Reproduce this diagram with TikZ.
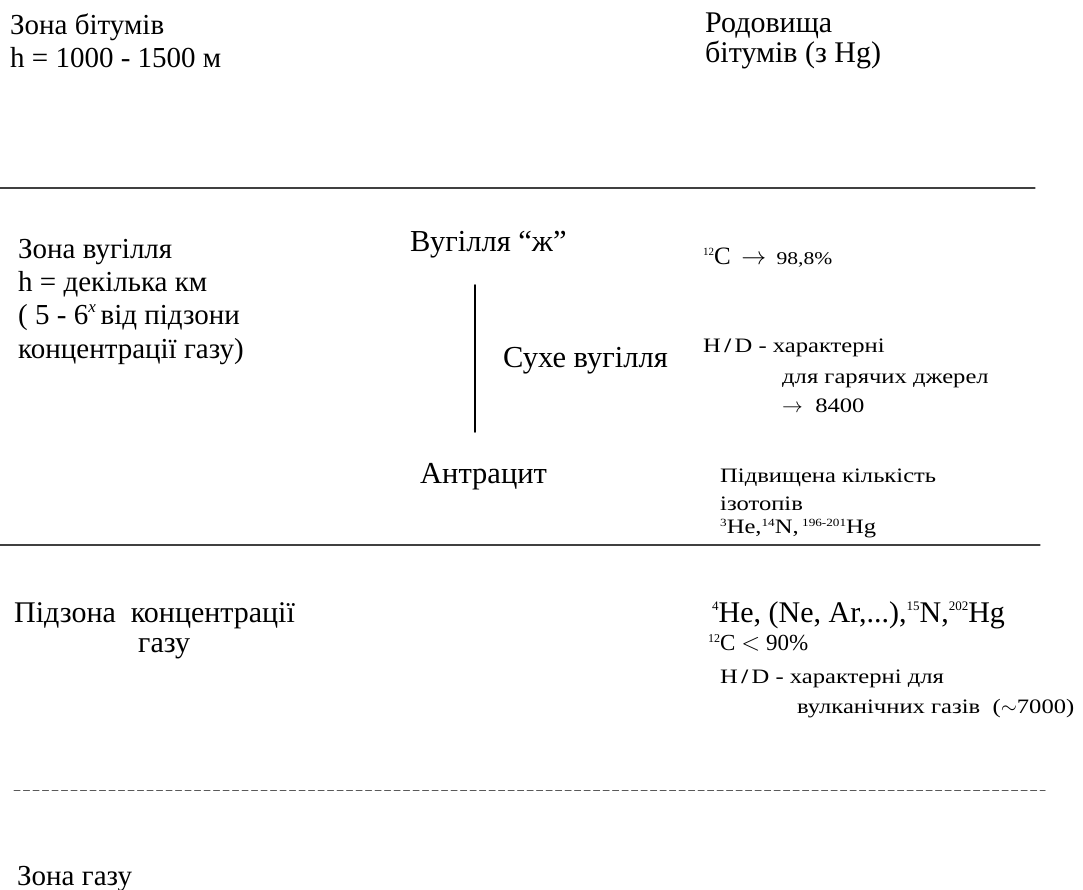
\documentclass[tikz,border=0pt]{standalone}
\usepackage{fontspec}
\setmainfont{Liberation Serif}
\newfontfamily\notefont{Liberation Serif}[FakeStretch=1.2]
\usetikzlibrary{positioning}

\newcommand{\isot}[2][11]{\raisebox{\dimexpr.66em-#1pt*66/100\relax}{\fontsize{#1}{#1}\selectfont #2}}

\tikzset{
  zone/.style={anchor=base west,inner sep=0pt,align=left,font=\rmfamily\fontsize{29}{33.3}\selectfont},
  coal/.style={anchor=base west,inner sep=0pt,font=\rmfamily\fontsize{30.5}{30}\selectfont},
  note/.style={anchor=base west,inner sep=0pt,align=left,font=\notefont\fontsize{20.5}{28}\selectfont},
  divider/.style={line width=1.1pt,color=black!75},
}

\begin{document}
\begin{tikzpicture}[line cap=round,line join=round,x=1pt,y=-1pt]
\useasboundingbox (0,0) rectangle (1083,890);
% bitumen zone
\node[zone] (bitum) at (10,68) {Зона бітумів\\h = 1000 - 1500 м};
\node[zone,font=\rmfamily\fontsize{30}{30}\selectfont] (rodov) at (705,63) {Родовища\\бітумів (з Hg)};
\draw[divider] (0,188) -- (1035,188);
% coal zone
\node[zone] (vugil) at (18,358) {Зона вугілля\\h = декілька км\\( 5 - 6\raisebox{.42em}{\fontsize{17}{17}\selectfont\itshape x}\,від підзони\\концентрації газу)};
\node[coal] (zhyrne) at (410,252) {Вугілля “ж”};
\node[coal] (sukhe) at (503,367) {Сухе вугілля};
\node[coal] (antr) at (420,483) {Антрацит};
\coordinate (vtop) at (475,285);
\coordinate (vbot) at (475,432);
\draw[line width=1.6pt] (vtop) -- (vbot);
\node[note,font=\rmfamily\fontsize{25}{25}\selectfont] (carb) at (703,265) {\isot[11]{12}C \,$\rightarrow$\ \,{\notefont\fontsize{18}{18}\selectfont 98,8\%}};
\node[note] (hdhot) at (703,352) {H\,{\bfseries/}\,D - характерні};
\node[note] (hdhotb) at (782,383) {для гарячих джерел};
\node[note] (hdhotc) at (782,412) {$\rightarrow$\ \ 8400};
\node[note] (izot) at (720,510) {Підвищена кількість\\ізотопів};
\node[note] (izotb) at (720,533) {\isot[11]{3}He,\isot[11]{14}N,\,\isot[11]{196-201}Hg};
\draw[divider] (0,545) -- (1040,545);
% gas concentration subzone
\node[zone,font=\rmfamily\fontsize{30}{30}\selectfont] (pidz) at (14,622) {Підзона\ \ концентрації};
\node[zone,font=\rmfamily\fontsize{30}{30}\selectfont] (pidzb) at (138,652) {газу};
\node[zone,font=\rmfamily\fontsize{30}{30}\selectfont] (helium) at (712,622) {\isot[13]{4}He, (Ne, Ar,...),\isot[13]{15}N,\isot[13]{202}Hg};
\node[note,font=\rmfamily\fontsize{23}{23}\selectfont] (carbb) at (708,650) {\isot[12]{12}C $<$ 90\%};
\node[note] (hdvulk) at (720,683) {H\,{\bfseries/}\,D - характерні для};
\node[note] (hdvulkb) at (797,713) {вулканічних газів \ ($\sim$7000)};
\draw[divider,line width=1pt,dash pattern=on 6pt off 3.5pt,color=black!65] (14,790) -- (1045,790);
% gas zone
\node[zone] (gaz) at (17,885) {Зона газу};
\end{tikzpicture}
\end{document}
